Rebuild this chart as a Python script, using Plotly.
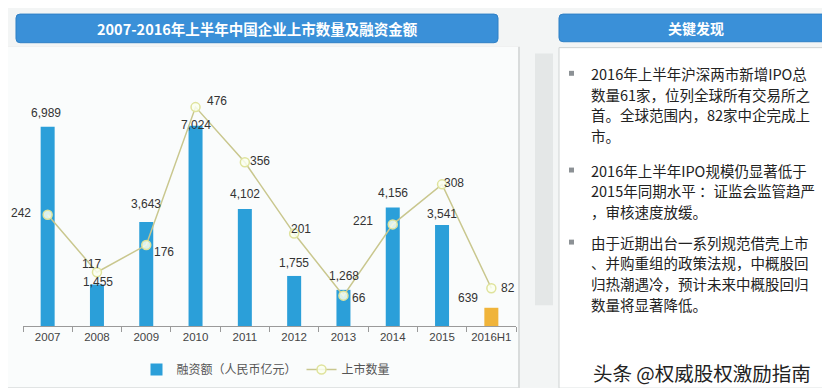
import plotly.graph_objects as go

# ---------------- data ----------------
categories = ["2007", "2008", "2009", "2010", "2011", "2012", "2013", "2014", "2015", "2016H1"]
financing = [6989, 1455, 3643, 7024, 4102, 1755, 1268, 4156, 3541, 639]      # 融资额（人民币亿元）
listings = [242, 117, 176, 476, 356, 201, 66, 221, 308, 82]                 # 上市数量
financing_labels = ["6,989", "1,455", "3,643", "7,024", "4,102", "1,755", "1,268", "4,156", "3,541", "639"]

title_text = "2007-2016年上半年中国企业上市数量及融资金额"
panel_title = "关键发现"
bullets = [
    ["2016年上半年沪深两市新增IPO总", "数量61家，位列全球所有交易所之", "首。全球范围内，82家中企完成上", "市。"],
    ["2016年上半年IPO规模仍显著低于", "2015年同期水平 ：证监会监管趋严", "，审核速度放缓。"],
    ["由于近期出台一系列规范借壳上市", "、并购重组的政策法规，中概股回", "归热潮遇冷，预计未来中概股回归", "数量将显著降低。"],
]
watermark = "头条 @权威股权激励指南"

# ---------------- style ----------------
W, H = 830, 388
L, R, T, B = 15, 322, 89, 67
PW, PH = W - L - R, H - T - B
FONT = "Noto Sans CJK SC"
BAR_BLUE = "#2b9fd9"
BAR_GOLD = "#f0b43a"
LINE_COL = "#c9c78e"

bar_label_shift = [(-2, 14), (1, 3), (0, 18), (0, 1), (0, 15), (0, 13), (1, 14), (0, 14), (0, 11), (-23, 10)]
line_label_shift = [(-27, 2), (-5, 8), (18, -7), (21, 6), (15, 1), (7, 5), (16, -2), (-30, 3), (12, 1), (17, 0)]


def px(xp):
    return (xp - L) / PW


def py(yp):
    return (H - B - yp) / PH


def rounded_box(x0, y0, x1, y1, r):
    """SVG path (paper coords) for a rounded rectangle given in page pixels."""
    pts = [
        ("M", x0 + r, y0), ("L", x1 - r, y0), ("Q", x1, y0, x1, y0 + r), ("L", x1, y1 - r),
        ("Q", x1, y1, x1 - r, y1), ("L", x0 + r, y1), ("Q", x0, y1, x0, y1 - r),
        ("L", x0, y0 + r), ("Q", x0, y0, x0 + r, y0),
    ]
    s = ""
    for p in pts:
        cmd, vals = p[0], p[1:]
        coords = []
        for j in range(0, len(vals), 2):
            coords.append("%.5f,%.5f" % (px(vals[j]), py(vals[j + 1])))
        s += cmd + " " + " ".join(coords) + " "
    return s + "Z"


fig = go.Figure()
# historical years in blue, the half-year 2016H1 in gold
fig.add_trace(go.Bar(
    x=categories[:-1], y=financing[:-1], name="融资额（人民币亿元）",
    marker=dict(color=BAR_BLUE, line=dict(width=0)), yaxis="y",
))
fig.add_trace(go.Bar(
    x=categories[-1:], y=financing[-1:], name="融资额 2016H1",
    marker=dict(color=BAR_GOLD, line=dict(width=0)), yaxis="y", showlegend=False,
))
fig.add_trace(go.Scatter(
    x=categories, y=listings, name="上市数量", mode="lines+markers",
    line=dict(color=LINE_COL, width=1.5),
    marker=dict(symbol="circle", size=9, color="rgba(250,255,240,0.85)",
                line=dict(color="#dfe39c", width=1.5)),
    yaxis="y2",
))

annotations = []
for i, (v, lab, (dx, dy)) in enumerate(zip(financing, financing_labels, bar_label_shift)):
    annotations.append(dict(x=i, y=v, xref="x", yref="y", text=lab, showarrow=False,
                            xanchor="center", yanchor="middle", xshift=dx, yshift=dy,
                            font=dict(family="Liberation Sans", size=12, color="#333")))
for i, (v, (dx, dy)) in enumerate(zip(listings, line_label_shift)):
    annotations.append(dict(x=i, y=v, xref="x", yref="y2", text=str(v), showarrow=False,
                            xanchor="center", yanchor="middle", xshift=dx, yshift=dy,
                            font=dict(family="Liberation Sans", size=12, color="#333")))

# titles
annotations.append(dict(x=px(249), y=py(19.5), xref="paper", yref="paper", text="<b>%s</b>" % title_text,
                        showarrow=False, xanchor="center", yanchor="middle",
                        font=dict(family=FONT, size=14.5, color="white")))
annotations.append(dict(x=px(688), y=py(19), xref="paper", yref="paper", text="<b>%s</b>" % panel_title,
                        showarrow=False, xanchor="center", yanchor="middle",
                        font=dict(family=FONT, size=14, color="white")))

shapes = []
# background panels
shapes.append(dict(type="rect", xref="paper", yref="paper", x0=px(0), x1=px(512), y0=py(385), y1=py(38),
                   fillcolor="#d9dcdc", line=dict(width=0), layer="below"))
shapes.append(dict(type="rect", xref="paper", yref="paper", x0=px(0), x1=px(510), y0=py(383), y1=py(38),
                   fillcolor="#fafcfc", line=dict(width=0), layer="below"))
shapes.append(dict(type="rect", xref="paper", yref="paper", x0=px(527), x1=px(545), y0=py(300), y1=py(45),
                   fillcolor="#e4e7e7", line=dict(width=0), layer="below"))
shapes.append(dict(type="path", xref="paper", yref="paper", path=rounded_box(8, 5, 490, 34, 4),
                   fillcolor="#3a90d8", line=dict(color="#2f80c6", width=1), layer="below"))
shapes.append(dict(type="path", xref="paper", yref="paper", path=rounded_box(551, 5, 825, 33, 4),
                   fillcolor="#3a90d8", line=dict(color="#2f80c6", width=1), layer="below"))
shapes.append(dict(type="rect", xref="paper", yref="paper", x0=px(551), x1=px(825), y0=py(384), y1=py(39),
                   fillcolor="#ffffff", line=dict(color="#cfd3d3", width=1), layer="below"))

# bullet text
line_h = 21
starts = [65, 163, 236]
for blk, y0 in zip(bullets, starts):
    shapes.append(dict(type="rect", xref="paper", yref="paper", x0=px(561), x1=px(566),
                       y0=py(y0 + 2.5), y1=py(y0 - 2.5), fillcolor="#8c9195", line=dict(width=0)))
    for k, ln in enumerate(blk):
        annotations.append(dict(x=px(581), y=py(y0 + k * line_h), xref="paper", yref="paper", text=ln,
                                showarrow=False, xanchor="left", yanchor="middle",
                                font=dict(family=FONT, size=14.5, color="#222")))

annotations.append(dict(x=px(583), y=py(368), xref="paper", yref="paper", text=watermark,
                        showarrow=False, xanchor="left", yanchor="middle",
                        font=dict(family=FONT, size=19.5, color="#222")))

fig.update_layout(
    width=W, height=H,
    margin=dict(l=L, r=R, t=T, b=B),
    paper_bgcolor="#f3f5f5", plot_bgcolor="rgba(0,0,0,0)",
    font=dict(family=FONT, size=12, color="#444"),
    barmode="overlay",
    bargap=0.716,
    xaxis=dict(type="category", categoryorder="array", categoryarray=categories,
               range=[-0.5, len(categories) - 0.5], autorange=False, automargin=False,
               tickangle=0,
               showline=True, linecolor="#9a9a9a", linewidth=1,
               ticks="outside", tickson="boundaries", ticklen=5, tickcolor="#9a9a9a",
               showgrid=False, tickfont=dict(family="Liberation Sans", size=11.5, color="#444")),
    yaxis=dict(range=[0, 8030], visible=False, showgrid=False),
    yaxis2=dict(range=[0, 498], overlaying="y", visible=False, showgrid=False),
    legend=dict(orientation="h", x=px(258), xanchor="center", y=py(365), yanchor="middle",
                font=dict(family=FONT, size=12, color="#555"), bgcolor="rgba(0,0,0,0)",
                traceorder="normal"),
    shapes=shapes,
    annotations=annotations,
)

fig.write_html("out.html")
